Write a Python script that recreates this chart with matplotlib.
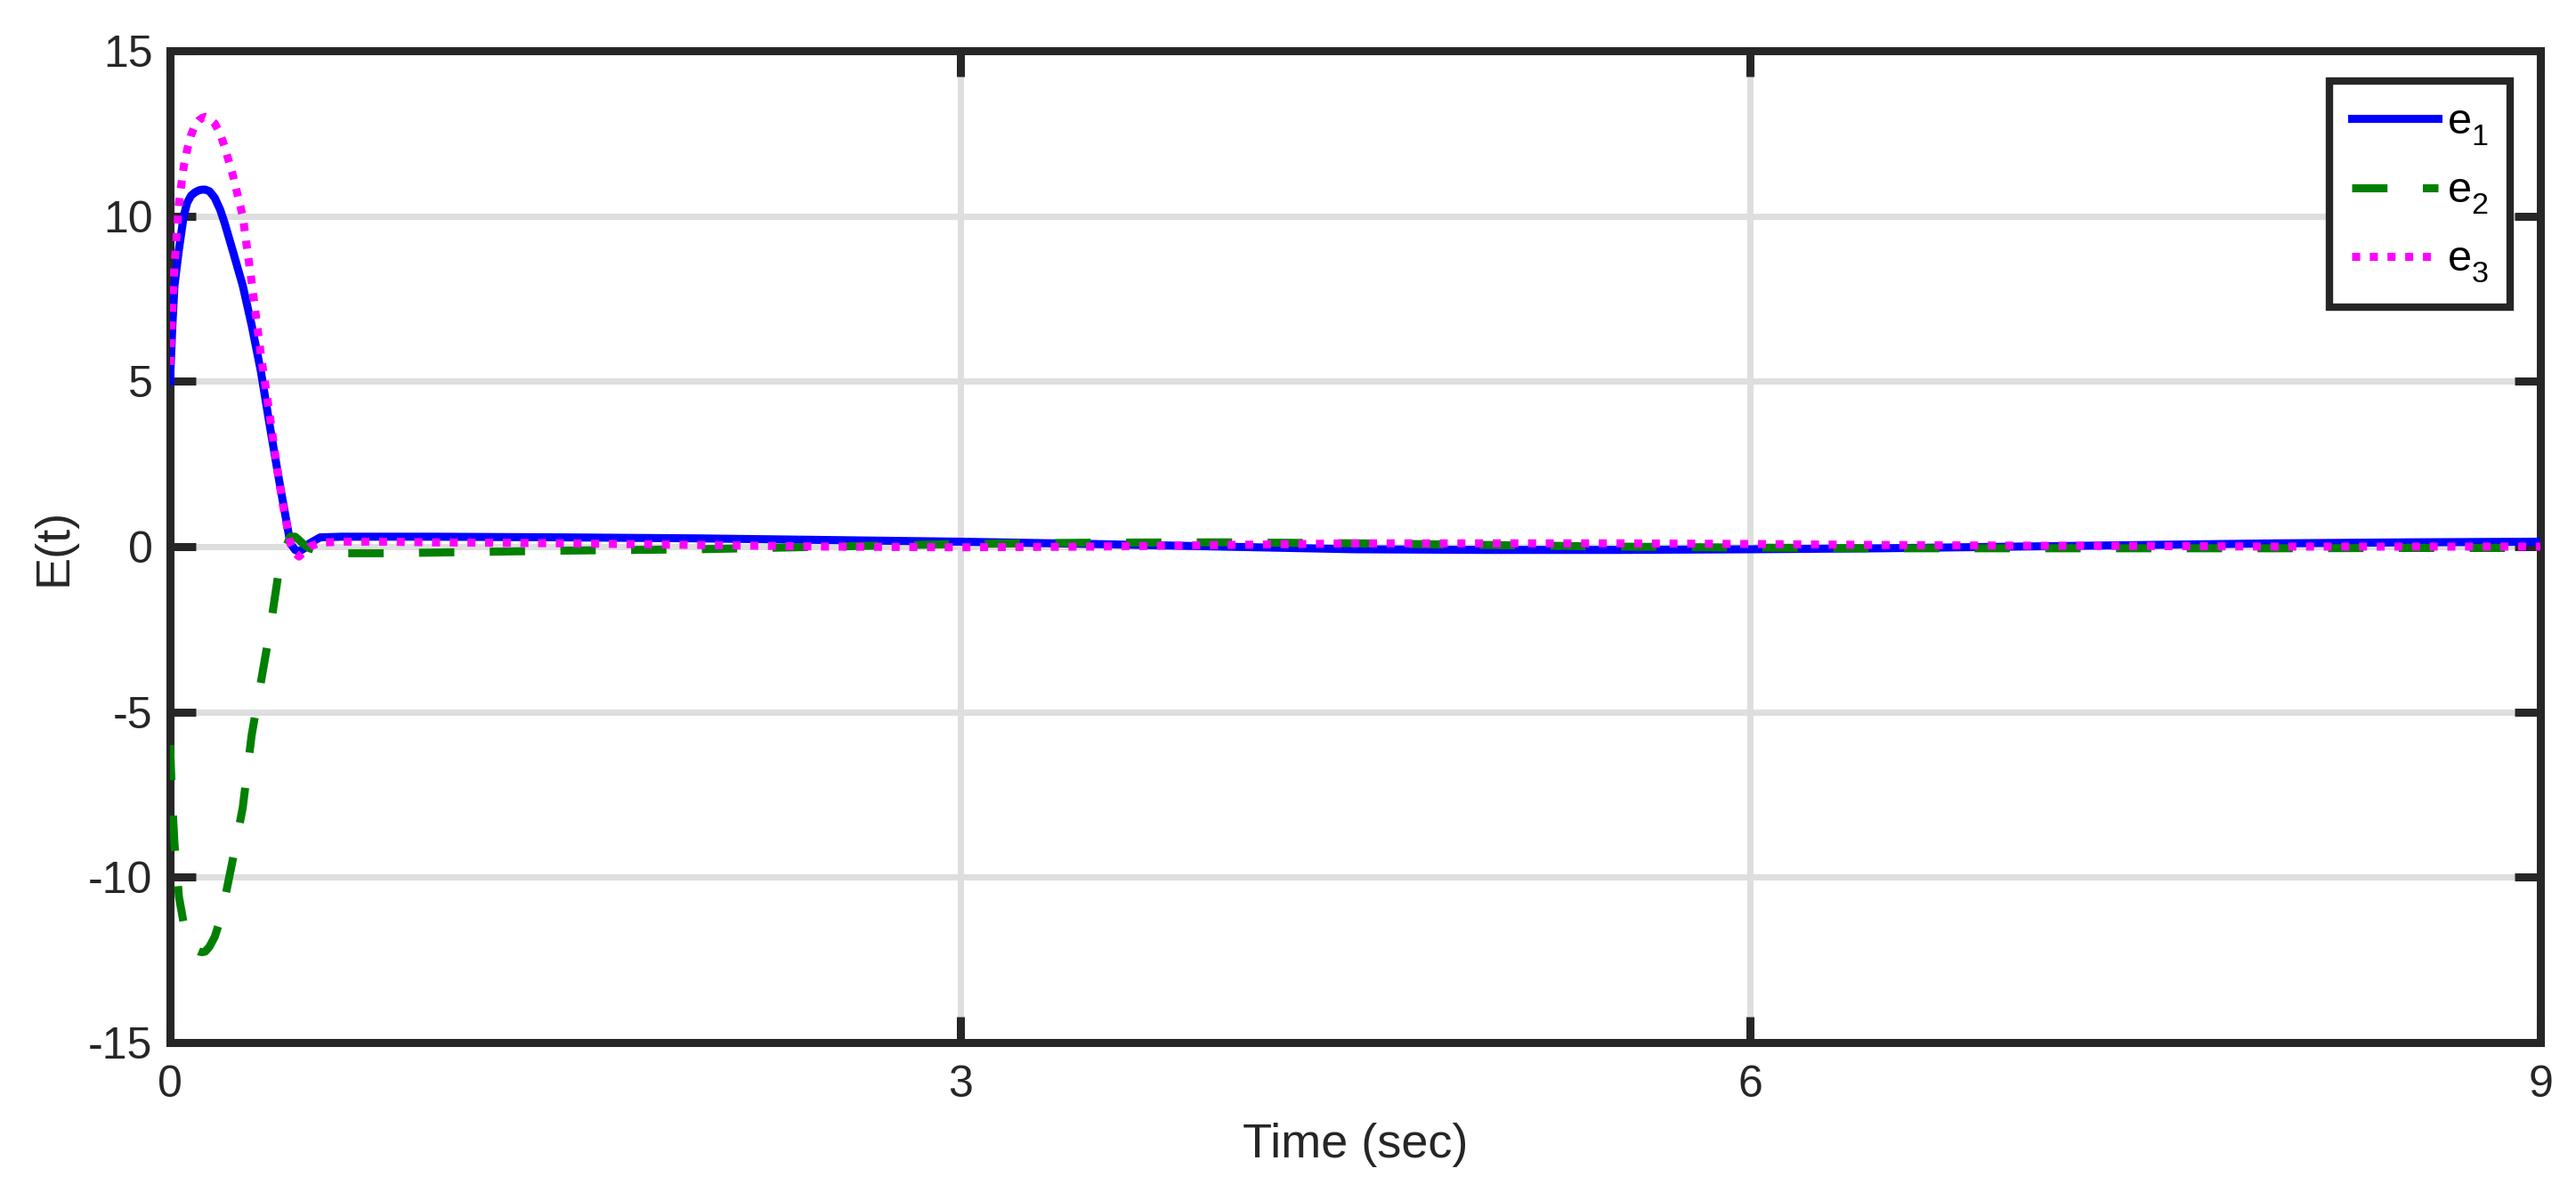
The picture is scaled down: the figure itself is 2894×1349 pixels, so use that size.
import numpy as np
import matplotlib.pyplot as plt

plt.rcParams['font.family'] = ['Liberation Sans', 'DejaVu Sans']
plt.rcParams['mathtext.fontset'] = 'custom'
plt.rcParams['mathtext.rm'] = 'Liberation Sans'
plt.rcParams['axes.unicode_minus'] = False

# time (sec) and synchronization errors
t = [0, 0.009, 0.017, 0.034, 0.052, 0.065, 0.08, 0.095, 0.11, 0.122, 0.134, 0.15,
     0.17, 0.19, 0.207, 0.24, 0.276, 0.31, 0.345, 0.38, 0.41, 0.43, 0.457, 0.475,
     0.49, 0.51, 0.53, 0.57, 0.65, 0.8, 1.0, 1.5, 2.0, 2.5, 3.0, 3.5, 4.0, 4.5,
     5.0, 5.5, 6.0, 6.5, 7.0, 7.5, 8.0, 8.5, 9.0]
e1 = [5.0, 6.7, 7.9, 9.0, 10.0, 10.4, 10.62, 10.72, 10.78, 10.8, 10.8, 10.75,
      10.55, 10.2, 9.8, 8.9, 7.9, 6.7, 5.3, 3.6, 2.2, 1.3, 0.1, -0.1,
      -0.15, -0.05, 0.1, 0.28, 0.3, 0.3, 0.3, 0.28, 0.25, 0.2, 0.15, 0.08, 0.0, -0.08,
      -0.1, -0.1, -0.08, -0.05, 0.0, 0.05, 0.1, 0.13, 0.15]
e2 = [-6.0, -7.8, -9.0, -10.6, -11.4, -11.8, -12.05, -12.2, -12.25, -12.27, -12.25, -12.1,
      -11.8, -11.3, -10.7, -9.4, -7.9, -5.7, -4.1, -2.5, -0.9, -0.2, 0.3, 0.3,
      0.2, 0.05, -0.05, -0.15, -0.2, -0.2, -0.18, -0.12, -0.08, 0.0, 0.08, 0.12, 0.13, 0.1,
      0.05, 0.0, -0.03, -0.05, -0.05, -0.05, -0.05, -0.04, -0.04]
e3 = [5.5, 7.2, 8.5, 10.4, 11.5, 12.0, 12.45, 12.75, 12.9, 12.97, 13.0, 12.95,
      12.8, 12.5, 12.1, 11.2, 10.0, 8.0, 5.8, 3.9, 2.2, 1.2, 0.1, -0.2,
      -0.3, -0.15, 0.0, 0.12, 0.15, 0.15, 0.13, 0.1, 0.05, 0.0, -0.02, 0.0, 0.05, 0.1,
      0.1, 0.1, 0.08, 0.05, 0.03, 0.02, 0.0, 0.0, 0.0]

dark = '#262626'

fig = plt.figure(figsize=(28.94, 13.49), dpi=100)
ax = fig.add_axes([0.066, 0.132, 0.9202, 0.8257])

ax.plot(t, e1, color='#0000ff', lw=6.5, label=r'e$_1^{ }$', zorder=3)
ax.plot(t, e2, color='#008000', lw=6.5, dashes=(4.4, 4.4), label=r'e$_2^{ }$', zorder=3)
ax.plot(t, e3, color='#ff00ff', lw=6.5, dashes=(1.0, 1.2), label=r'e$_3^{ }$', zorder=3)

ax.set_xlim(0, 9)
ax.set_ylim(-15, 15)
ax.set_xticks([0, 3, 6, 9])
ax.set_yticks([-15, -10, -5, 0, 5, 10, 15])
ax.grid(True, color='#dedede', lw=5)
ax.set_axisbelow(True)

for s in ax.spines.values():
    s.set_linewidth(6.5)
    s.set_color(dark)
ax.tick_params(direction='in', length=21, width=6.5, color=dark, labelcolor=dark,
               labelsize=36, pad=14, top=True, right=True)
ax.tick_params(axis='x', pad=18)

ax.set_xlabel('Time (sec)', fontsize=39, color=dark, labelpad=14)
ax.set_ylabel('E(t)', fontsize=39, color=dark, labelpad=10)

leg = ax.legend(loc='upper right', fontsize=35, handlelength=2.0, handletextpad=0.2,
                labelspacing=0.55, borderpad=0.5, borderaxespad=0.7, fancybox=False,
                framealpha=1)
leg.get_frame().set_edgecolor(dark)
leg.get_frame().set_linewidth(6)

fig.savefig('out.png', dpi=100)
